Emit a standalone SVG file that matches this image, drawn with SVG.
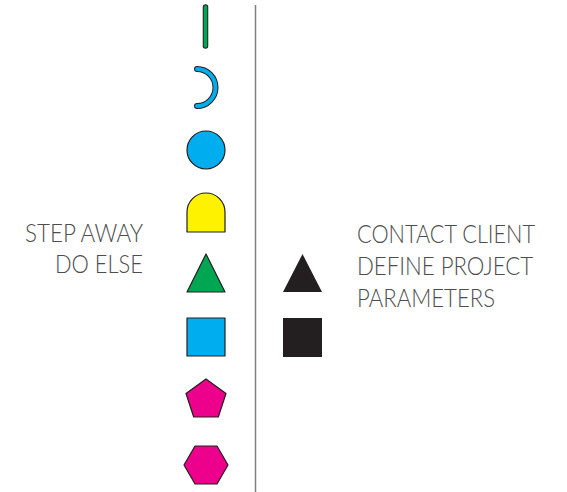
<svg xmlns="http://www.w3.org/2000/svg" width="567" height="492" viewBox="0 0 567 492">
  <style>
    .shape { stroke: #231f20; stroke-width: 1.2; stroke-linejoin: round; }
    .lbl { font-family: Lato, "Open Sans", "Liberation Sans", sans-serif; font-weight: 300; font-size: 25px; fill: #4d4d4d; }
    .divider { stroke: #808080; stroke-width: 1.5; }
  </style>
  <rect width="567" height="492" fill="#fff"/>

  <g id="connectors">
    <line class="divider" x1="255.5" y1="5" x2="255.5" y2="492"/>
  </g>

  <!-- left column of symbols -->
  <g id="bar">
    <line x1="205.5" y1="7" x2="205.5" y2="46" stroke="#231f20" stroke-width="5.5" stroke-linecap="round"/>
    <line x1="205.5" y1="7" x2="205.5" y2="46" stroke="#00a651" stroke-width="3.5" stroke-linecap="round"/>
  </g>
  <g id="arc">
    <path d="M197,69 A18.5,18.5 0 0 1 197,106" fill="none" stroke="#231f20" stroke-width="6" stroke-linecap="round"/>
    <path d="M197,69 A18.5,18.5 0 0 1 197,106" fill="none" stroke="#00aeef" stroke-width="4" stroke-linecap="round"/>
  </g>
  <g id="circle">
    <circle class="shape" cx="206" cy="150" r="19" fill="#00aeef"/>
  </g>
  <g id="dome">
    <path class="shape" d="M187,232 V212 A19,19 0 0 1 225,212 V232 Z" fill="#fff200"/>
  </g>
  <g id="triangle">
    <polygon class="shape" points="206,254 225,292 187,292" fill="#00a651"/>
  </g>
  <g id="square">
    <rect class="shape" x="187" y="318" width="38" height="38" fill="#00aeef"/>
  </g>
  <g id="pentagon">
    <polygon class="shape" points="206,379 226,393.5 218.3,417 193.7,417 186,393.5" fill="#ec008c"/>
  </g>
  <g id="hexagon">
    <polygon class="shape" points="195,446 217,446 228,465 217,484 195,484 184,465" fill="#ec008c"/>
  </g>

  <!-- right column of symbols -->
  <g id="triangle-black">
    <polygon points="302.5,254 322,292 283,292" fill="#231f20"/>
  </g>
  <g id="square-black">
    <rect x="283" y="318" width="39" height="39" fill="#231f20"/>
  </g>

  <g id="label-left">
    <text class="lbl" x="143" y="242" text-anchor="end" textLength="118" lengthAdjust="spacingAndGlyphs">STEP AWAY</text>
    <text class="lbl" x="143" y="273" text-anchor="end" textLength="88" lengthAdjust="spacingAndGlyphs">DO ELSE</text>
  </g>
  <g id="label-right">
    <text class="lbl" x="357" y="243" textLength="178" lengthAdjust="spacingAndGlyphs">CONTACT CLIENT</text>
    <text class="lbl" x="357" y="275" textLength="176" lengthAdjust="spacingAndGlyphs">DEFINE PROJECT</text>
    <text class="lbl" x="357" y="307" textLength="138" lengthAdjust="spacingAndGlyphs">PARAMETERS</text>
  </g>
</svg>
